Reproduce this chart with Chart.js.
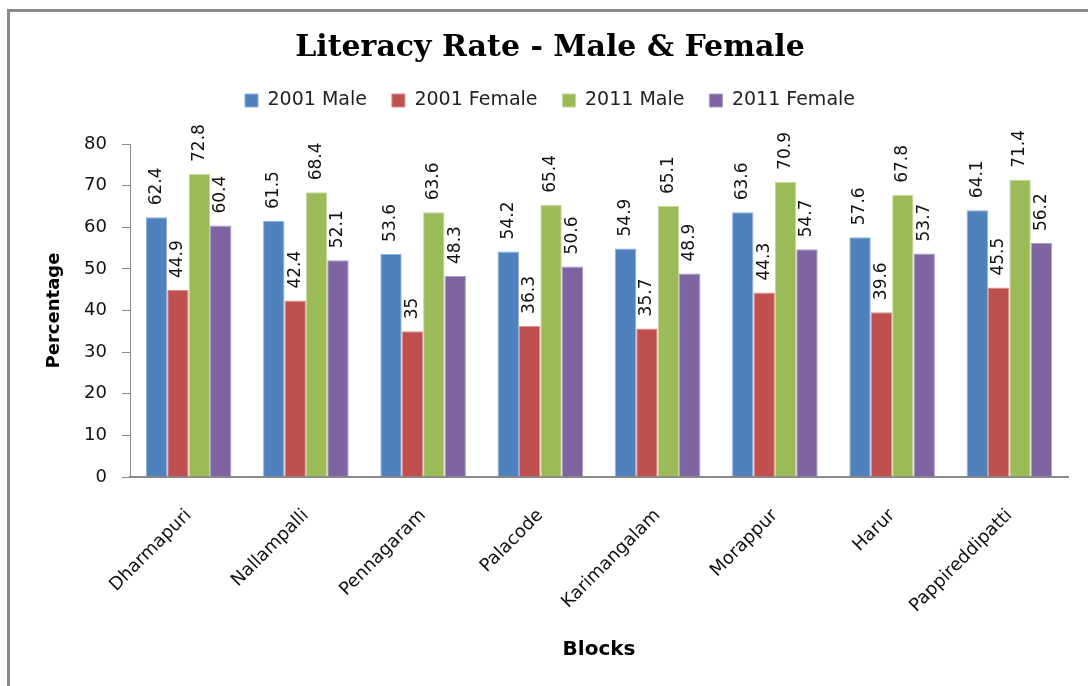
<!DOCTYPE html>
<html>
<head>
<meta charset="utf-8">
<script src="https://cdn.jsdelivr.net/npm/chart.js@4.4.1/dist/chart.umd.min.js"></script>
<style>
  html, body { margin: 0; padding: 0; background: #fff; }
  #wrap { position: relative; width: 1088px; height: 686px; overflow: hidden; }
  #frame { position: absolute; left: 7px; top: 9px; width: 1100px; height: 700px;
           border-top: 3px solid #8a8a8a; border-left: 3px solid #8a8a8a; box-sizing: border-box; }
  canvas { position: absolute; left: 0; top: 0; }
</style>
</head>
<body>
<div id="wrap">
  <div id="frame"></div>
  <canvas id="chartLiteracy" width="1088" height="686"></canvas>
</div>
<script>
// Blocks and literacy percentages
const blocks = ['Dharmapuri', 'Nallampalli', 'Pennagaram', 'Palacode', 'Karimangalam', 'Morappur', 'Harur', 'Pappireddipatti'];
const male2001   = [62.4, 61.5, 53.6, 54.2, 54.9, 63.6, 57.6, 64.1];
const female2001 = [44.9, 42.4, 35.0, 36.3, 35.7, 44.3, 39.6, 45.5];
const male2011   = [72.8, 68.4, 63.6, 65.4, 65.1, 70.9, 67.8, 71.4];
const female2011 = [60.4, 52.1, 48.3, 50.6, 48.9, 54.7, 53.7, 56.2];
const yTicks = [0, 10, 20, 30, 40, 50, 60, 70, 80];

const sansFont = 'DejaVu Sans';

// Value labels written vertically just above each bar
const barLabels = {
    id: 'barLabels',
    afterDatasetsDraw(chart) {
        const ctx = chart.ctx;
        ctx.save();
        ctx.font = '17px "' + sansFont + '"';
        ctx.fillStyle = '#111';
        ctx.textAlign = 'left';
        ctx.textBaseline = 'middle';
        chart.data.datasets.forEach((ds, i) => {
            chart.getDatasetMeta(i).data.forEach((bar, j) => {
                ctx.save();
                ctx.translate(bar.x, bar.y - 12);
                ctx.rotate(-Math.PI / 2);
                ctx.fillText(String(ds.data[j]), 0, 0);
                ctx.restore();
            });
        });
        ctx.restore();
    }
};

// Extra room between the legend row and the plot
const legendGap = {
    id: 'legendGap',
    beforeInit(chart) {
        const fit = chart.legend.fit;
        chart.legend.fit = function () {
            fit.call(this);
            this.height += 24;
        };
    }
};

function makeSet(label, values, color, edge) {
    return {
        label: label,
        data: values,
        backgroundColor: color,
        borderColor: edge,
        borderWidth: 1,
        categoryPercentage: 0.73,
        barPercentage: 1.0
    };
}

const ctx = document.getElementById('chartLiteracy').getContext('2d');
const chart = new Chart(ctx, {
    type: 'bar',
    data: {
        labels: blocks,
        datasets: [
            makeSet('2001 Male', male2001, '#4F81BD', '#8fb0dc'),
            makeSet('2001 Female', female2001, '#C0504D', '#dc8f8d'),
            makeSet('2011 Male', male2011, '#9BBB59', '#c3d99a'),
            makeSet('2011 Female', female2011, '#8064A2', '#ad98c8')
        ]
    },
    options: {
        responsive: false,
        animation: false,
        layout: { padding: { top: 10, left: 32, right: 20, bottom: 0 } },
        plugins: {
            title: {
                display: true,
                text: 'Literacy Rate - Male & Female',
                color: '#000',
                font: { family: 'DejaVu Serif', size: 30, weight: 'bold' },
                padding: { top: 20, bottom: 0 }
            },
            legend: {
                position: 'top',
                labels: {
                    color: '#222',
                    font: { family: sansFont, size: 19 },
                    boxWidth: 13,
                    boxHeight: 13,
                    padding: 25
                }
            },
            tooltip: { enabled: false }
        },
        scales: {
            x: {
                grid: { display: false },
                border: { color: '#8a8a8a', width: 2 },
                ticks: {
                    color: '#111',
                    font: { family: sansFont, size: 18 },
                    maxRotation: 45,
                    minRotation: 45,
                    padding: 20
                },
                title: {
                    display: true,
                    text: 'Blocks',
                    color: '#000',
                    font: { family: sansFont, size: 20, weight: 'bold' },
                    padding: { top: 4, bottom: 24 }
                },
                afterFit(scale) { scale.height = 209; }
            },
            y: {
                min: 0,
                max: 80,
                afterBuildTicks(scale) { scale.ticks = yTicks.map(v => ({ value: v })); },
                grid: { drawOnChartArea: false, drawTicks: true, tickLength: 8, color: '#8a8a8a' },
                border: { color: '#8a8a8a', width: 1 },
                ticks: {
                    color: '#111',
                    font: { family: sansFont, size: 18 },
                    padding: 15
                },
                title: {
                    display: true,
                    text: 'Percentage',
                    color: '#000',
                    font: { family: sansFont, size: 18, weight: 'bold' },
                    padding: { top: 12, bottom: 0 }
                },
                afterFit(scale) { scale.width = 98; }
            }
        }
    },
    plugins: [barLabels, legendGap]
});
</script>
</body>
</html>
